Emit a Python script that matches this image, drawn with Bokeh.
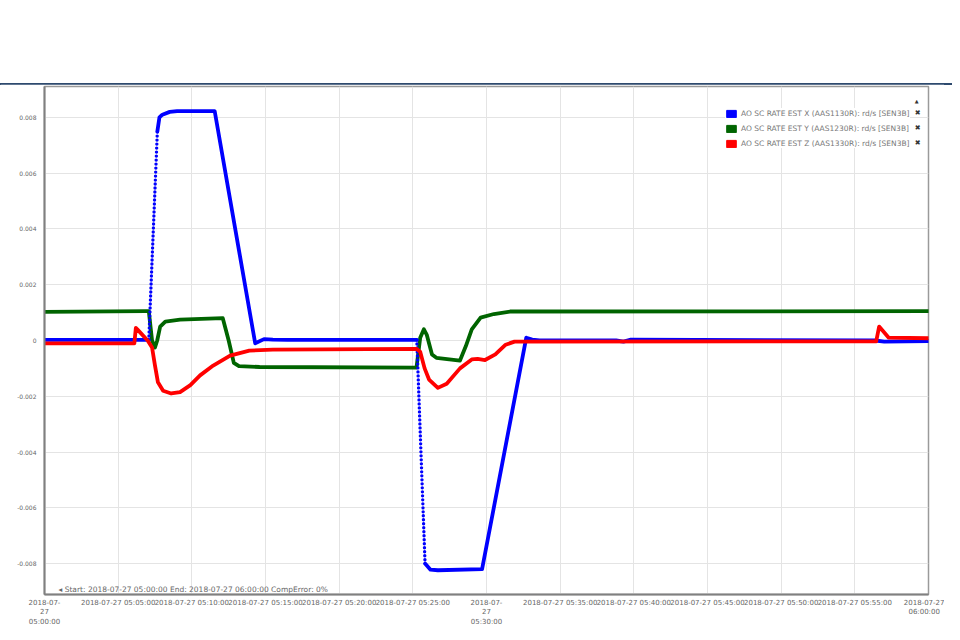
from bokeh.plotting import figure
from bokeh.models import (FixedTicker, Legend, LegendItem, Label, Range1d, Div)
from bokeh.layouts import column
from bokeh.embed import file_html
from bokeh.resources import INLINE

# ---------------- data (minutes after 2018-07-27 05:00:00) ----------------
blue_t = [0.0, 7.08, 7.66, 7.8, 8.0, 8.5, 9.0, 11.55, 14.3, 14.9, 15.5, 16.5,
          25.27, 25.83, 26.2, 26.7, 29.7, 32.7, 33.1, 33.6, 38.8, 39.3, 39.8,
          56.4, 57.0, 60.0]
blue_v = [0.00002, 0.00002, 0.0075, 0.0080, 0.0081, 0.0082, 0.00823, 0.00823,
          -0.0001, 0.00005, 0.00003, 0.00002, 0.00002, -0.0080, -0.00822,
          -0.00824, -0.0082, 0.0001, 0.00003, 0.0, 0.0, -0.00004, 0.00003, 0.0,
          -0.00004, -0.00002]
# fast (sparsely sampled) transitions drawn as dotted: index pairs into blue_t
blue_fast = [(1, 2), (12, 13)]

green_t = [0.0, 6.9, 7.08, 7.3, 7.5, 7.65, 7.85, 8.2, 9.2, 12.1, 12.5, 12.85,
           13.2, 14.6, 25.25, 25.5, 25.75, 25.95, 26.3, 26.6, 28.2, 28.6, 29.0,
           29.6, 30.5, 31.6, 60.0]
green_v = [0.00103, 0.00105, 0.00105, 0.0, -0.00025, 0.0, 0.0005, 0.00068,
           0.00075, 0.0008, 0.0, -0.0008, -0.00092, -0.00095, -0.00097, 0.0001,
           0.0004, 0.0002, -0.0005, -0.00062, -0.00072, -0.0002, 0.0004,
           0.00082, 0.00095, 0.00104, 0.00105]

red_t = [0.0, 6.1, 6.2, 6.3, 7.0, 7.3, 7.5, 7.7, 8.05, 8.6, 9.2, 9.9, 10.56,
         11.45, 12.6, 13.9, 15.5, 25.25, 25.5, 25.8, 26.1, 26.7, 27.3,
         28.2, 29.0, 29.4, 29.9, 30.6, 31.3, 31.9, 56.45, 56.65, 57.3, 60.0]
red_v = [-0.0001, -0.0001, 0.00045, 0.0004, 0.0, -0.00025, -0.0009, -0.0015,
         -0.0018, -0.0019, -0.00185, -0.0016, -0.00125, -0.0009, -0.00054,
         -0.00036, -0.00033, -0.0003, -0.0004, -0.001, -0.0014,
         -0.0017, -0.00155, -0.001, -0.00068, -0.00066, -0.0007, -0.0005,
         -0.00015, -0.00004, -0.00003, 0.0005, 0.0001, 0.00008]

series_names = ["AO SC RATE EST X (AAS1130R): rd/s [SEN3B]",
                "AO SC RATE EST Y (AAS1230R): rd/s [SEN3B]",
                "AO SC RATE EST Z (AAS1330R): rd/s [SEN3B]"]
series_colors = ["#0000ff", "#006400", "#ff0000"]

x_ticks = [0, 5, 10, 15, 20, 25, 30, 35, 40, 45, 50, 55, 60]
x_labels = ["2018-07-\n27\n05:00:00", "2018-07-27 05:05:00", "2018-07-27 05:10:00",
            "2018-07-27 05:15:00", "2018-07-27 05:20:00", "2018-07-27 05:25:00",
            "2018-07-\n27\n05:30:00", "2018-07-27 05:35:00", "2018-07-27 05:40:00",
            "2018-07-27 05:45:00", "2018-07-27 05:50:00", "2018-07-27 05:55:00",
            "2018-07-27\n06:00:00"]
y_ticks = [-0.008, -0.006, -0.004, -0.002, 0, 0.002, 0.004, 0.006, 0.008]
y_labels = ["-0.008", "-0.006", "-0.004", "-0.002", "0", "0.002", "0.004",
            "0.006", "0.008"]
footer_text = "\u25c2 Start: 2018-07-27 05:00:00 End: 2018-07-27 06:00:00 CompError: 0%"

FONT = "DejaVu Sans"
NAN = float("nan")

# ---------------- figure ----------------
p = figure(width=944, height=544, title=None,
           min_border_left=44, min_border_right=16, min_border_top=2,
           min_border_bottom=34,
           x_range=Range1d(0, 60), y_range=Range1d(-0.00911, 0.00911),
           output_backend="svg", toolbar_location=None,
           background_fill_color="white", border_fill_color="white")

p.outline_line_color = "#9a9a9a"
p.outline_line_width = 1.5

p.xaxis.ticker = FixedTicker(ticks=x_ticks)
p.xaxis.major_label_overrides = dict(zip(x_ticks, x_labels))
p.yaxis.ticker = FixedTicker(ticks=y_ticks)
p.yaxis.major_label_overrides = dict(zip(y_ticks, y_labels))

for ax in (p.xaxis[0], p.yaxis[0]):
    ax.axis_line_color = "#808080"
    ax.axis_line_width = 2
    ax.major_tick_line_color = None
    ax.minor_tick_line_color = None
    ax.major_tick_out = 0
    ax.major_tick_in = 0
    ax.minor_tick_out = 0
    ax.major_label_text_font = FONT
    ax.major_label_text_color = "#666666"
p.xaxis.major_label_text_font_size = "7px"
p.xaxis.major_label_standoff = 4
p.yaxis.major_label_text_font_size = "6px"
p.yaxis.major_label_standoff = 8

p.xgrid.grid_line_color = "#e4e4e4"
p.ygrid.grid_line_color = "#e4e4e4"

LW = 3.8

# green
p.line(green_t, green_v, line_color=series_colors[1], line_width=LW,
       line_join="round", line_cap="round")

# blue: solid pieces, dotted fast transitions
breaks = [0]
for a, b in blue_fast:
    breaks += [a, b]
breaks.append(len(blue_t) - 1)
xs, ys = [], []
for i in range(0, len(breaks), 2):
    a, b = breaks[i], breaks[i + 1]
    xs.append(blue_t[a:b + 1])
    ys.append(blue_v[a:b + 1])
p.multi_line(xs, ys, line_color=series_colors[0], line_width=LW,
             line_join="round", line_cap="round")
for a, b in blue_fast:
    p.line(blue_t[a:b + 1], blue_v[a:b + 1], line_color=series_colors[0],
           line_width=3.4, line_dash="0 4", line_cap="round")

# red
p.line(red_t, red_v, line_color=series_colors[2], line_width=LW,
       line_join="round", line_cap="round")

# legend keys (filled boxes; glyphs carry no visible data)
items = []
for name, col in zip(series_names, series_colors):
    r = p.quad(left=[NAN], right=[NAN], top=[NAN], bottom=[NAN],
               fill_color=col, line_color=col)
    items.append(LegendItem(label=name, renderers=[r]))
legend = Legend(items=items, location=(681, 446), padding=10,
                spacing=5, glyph_width=12, glyph_height=9, label_height=10,
                label_standoff=4, label_text_font=FONT,
                label_text_font_size="7.5px", label_text_color="#777777",
                border_line_color=None, background_fill_color="white",
                background_fill_alpha=1.0)
p.add_layout(legend, "center")

# legend decorations (close crosses and collapse arrow)
for yy in [0.00817, 0.00763, 0.0071]:
    p.add_layout(Label(x=59.27, y=yy, text="\u2716", text_font=FONT,
                       text_font_size="7px", text_color="#333333",
                       text_align="center", text_baseline="middle",
                       level="overlay"))
p.add_layout(Label(x=59.2, y=0.0086, text="\u25b2", text_font=FONT,
                   text_font_size="5px", text_color="#333333",
                   text_align="center", text_baseline="middle",
                   level="overlay"))

# footer info text
p.add_layout(Label(x=0.95, y=-0.00893, text=footer_text, text_font=FONT,
                   text_font_size="7.5px", text_color="#666666",
                   text_align="left", text_baseline="middle"))

header = Div(text="", width=960, height=74,
             styles={"border-bottom": "2px solid #2e4a6e",
                     "margin-left": "-8px", "min-width": "960px",
                     "position": "relative", "top": "6px"})

layout = column(header, p, spacing=0)

open("out.html", "w").write(file_html(layout, INLINE))
